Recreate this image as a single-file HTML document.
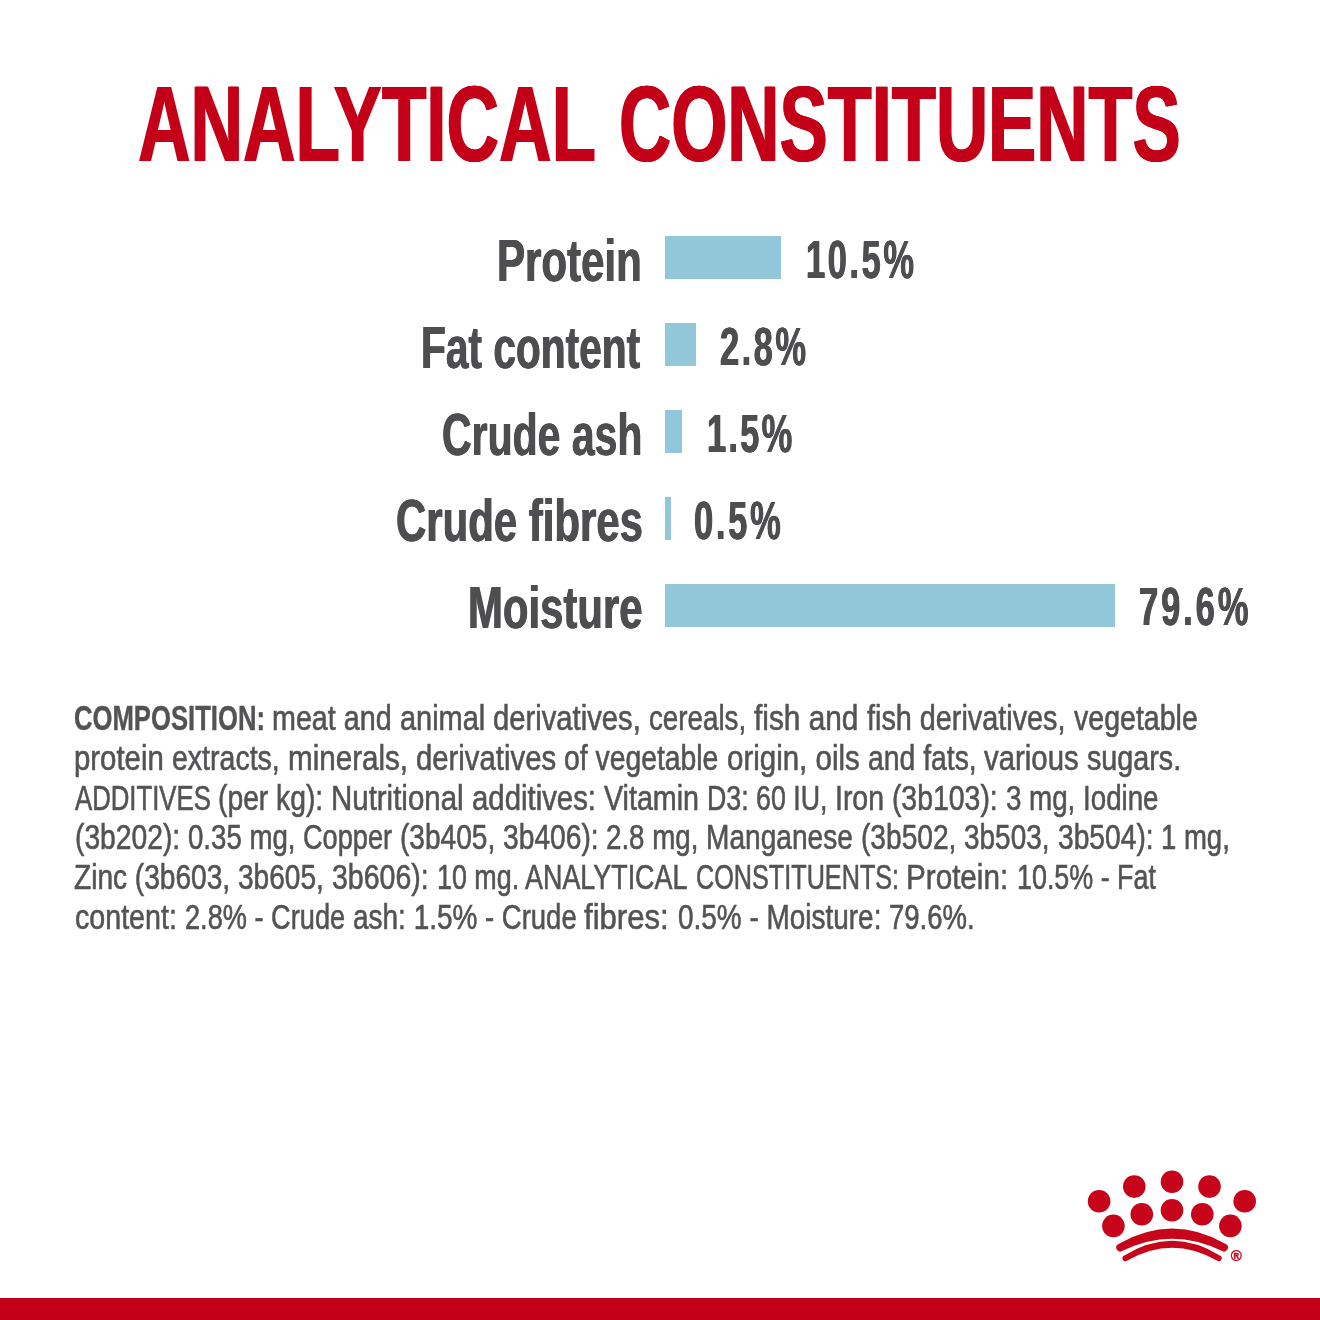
<!DOCTYPE html>
<html lang="en">
<head>
<meta charset="utf-8">
<title>Analytical Constituents</title>
<style>
html,body{margin:0;padding:0;background:#fff;}
body{width:1320px;height:1320px;position:relative;overflow:hidden;font-family:"Liberation Sans",sans-serif;}
h1,p{margin:0;font-size:inherit;font-weight:inherit;}
.t{position:absolute;white-space:pre;line-height:1;transform-origin:0 0;display:block;}
.h{font-size:107.85px;font-weight:700;color:#C40018;text-shadow:1.1px 0 0 #C40018,-1.1px 0 0 #C40018;}
.l{font-size:58.5px;font-weight:700;color:#4E4E50;text-shadow:0.6px 0 0 #4E4E50,-0.6px 0 0 #4E4E50;}
.v{font-size:54.36px;font-weight:700;color:#4E4E50;text-shadow:0.6px 0 0 #4E4E50,-0.6px 0 0 #4E4E50;}
.p{font-size:34.44px;color:#535355;-webkit-text-stroke:0.6px #535355;}
.pb{font-weight:700;-webkit-text-stroke:0.4px #535355;}
.bar{position:absolute;left:665px;height:42.7px;background:#92C6D9;}
.foot{position:absolute;left:0;top:1298px;width:1320px;height:22px;background:#C20017;}
svg{position:absolute;left:0;top:0;}
</style>
</head>
<body>
<h1>
<span class="t h" style="left:138.41px;top:70.31px;transform:scaleX(0.6746)">ANALYTICAL</span>
<span class="t h" style="left:619.08px;top:70.31px;transform:scaleX(0.6696)">CONSTITUENTS</span>
</h1>
<div class="chart">
<div class="row">
<span class="t l" style="left:497.30px;top:232.08px;transform:scaleX(0.7185)">Protein</span>
<div class="bar" style="top:236.3px;width:115.8px"></div>
<span class="t v" style="left:805.82px;top:232.58px;transform:scaleX(0.6350);letter-spacing:3.979px">10.5%</span>
</div>
<div class="row">
<span class="t l" style="left:421.38px;top:319.08px;transform:scaleX(0.6951)">Fat content</span>
<div class="bar" style="top:323.3px;width:31.0px"></div>
<span class="t v" style="left:720.00px;top:319.58px;transform:scaleX(0.6350);letter-spacing:3.899px">2.8%</span>
</div>
<div class="row">
<span class="t l" style="left:441.84px;top:406.08px;transform:scaleX(0.7006)">Crude ash</span>
<div class="bar" style="top:410.3px;width:16.7px"></div>
<span class="t v" style="left:706.52px;top:406.58px;transform:scaleX(0.6350);letter-spacing:3.467px">1.5%</span>
</div>
<div class="row">
<span class="t l" style="left:395.82px;top:492.08px;transform:scaleX(0.7167)">Crude fibres</span>
<div class="bar" style="top:497.3px;width:5.7px"></div>
<span class="t v" style="left:694.30px;top:493.58px;transform:scaleX(0.6350);letter-spacing:4.266px">0.5%</span>
</div>
<div class="row">
<span class="t l" style="left:467.61px;top:579.08px;transform:scaleX(0.7158)">Moisture</span>
<div class="bar" style="top:584.2px;width:450.4px"></div>
<span class="t v" style="left:1138.80px;top:580.38px;transform:scaleX(0.6350);letter-spacing:4.578px">79.6%</span>
</div>
</div>
<p>
<span class="t p pb" style="left:74.42px;top:701.35px;transform:scaleX(0.7453)">COMPOSITION:</span>
<span class="t p" style="left:272.46px;top:701.35px;transform:scaleX(0.8332)">meat and</span>
<span class="t p" style="left:400.05px;top:701.35px;transform:scaleX(0.8405)">animal</span>
<span class="t p" style="left:493.34px;top:701.35px;transform:scaleX(0.8490)">derivatives,</span>
<span class="t p" style="left:649.37px;top:701.35px;transform:scaleX(0.8058)">cereals,</span>
<span class="t p" style="left:754.26px;top:701.35px;transform:scaleX(0.8657)">fish and</span>
<span class="t p" style="left:866.95px;top:701.35px;transform:scaleX(0.8368)">fish derivatives,</span>
<span class="t p" style="left:1073.55px;top:701.35px;transform:scaleX(0.8293)">vegetable</span>
<span class="t p" style="left:74.12px;top:740.95px;transform:scaleX(0.8525)">protein</span>
<span class="t p" style="left:172.06px;top:740.95px;transform:scaleX(0.8283)">extracts,</span>
<span class="t p" style="left:287.71px;top:740.95px;transform:scaleX(0.8597)">minerals,</span>
<span class="t p" style="left:416.04px;top:740.95px;transform:scaleX(0.8515)">derivatives</span>
<span class="t p" style="left:564.36px;top:740.95px;transform:scaleX(0.8230)">of vegetable</span>
<span class="t p" style="left:726.64px;top:740.95px;transform:scaleX(0.8566)">origin, oils</span>
<span class="t p" style="left:867.66px;top:740.95px;transform:scaleX(0.8230)">and fats,</span>
<span class="t p" style="left:984.26px;top:740.95px;transform:scaleX(0.8529)">various</span>
<span class="t p" style="left:1087.10px;top:740.95px;transform:scaleX(0.8345)">sugars.</span>
<span class="t p" style="left:75.22px;top:780.75px;transform:scaleX(0.7478)">ADDITIVES</span>
<span class="t p" style="left:218.22px;top:780.75px;transform:scaleX(0.8210)">(per kg):</span>
<span class="t p" style="left:331.26px;top:780.75px;transform:scaleX(0.8553)">Nutritional</span>
<span class="t p" style="left:472.04px;top:780.75px;transform:scaleX(0.8527)">additives:</span>
<span class="t p" style="left:604.25px;top:780.75px;transform:scaleX(0.8326)">Vitamin</span>
<span class="t p" style="left:707.44px;top:780.75px;transform:scaleX(0.7776)">D3: 60 IU,</span>
<span class="t p" style="left:835.33px;top:780.75px;transform:scaleX(0.8258)">Iron (3b103):</span>
<span class="t p" style="left:1006.08px;top:780.75px;transform:scaleX(0.8052)">3 mg, Iodine</span>
<span class="t p" style="left:74.62px;top:820.45px;transform:scaleX(0.8201)">(3b202):</span>
<span class="t p" style="left:187.68px;top:820.45px;transform:scaleX(0.8029)">0.35 mg,</span>
<span class="t p" style="left:302.96px;top:820.45px;transform:scaleX(0.7893)">Copper</span>
<span class="t p" style="left:399.63px;top:820.45px;transform:scaleX(0.8154)">(3b405,</span>
<span class="t p" style="left:502.66px;top:820.45px;transform:scaleX(0.8195)">3b406):</span>
<span class="t p" style="left:606.24px;top:820.45px;transform:scaleX(0.8049)">2.8 mg,</span>
<span class="t p" style="left:706.35px;top:820.45px;transform:scaleX(0.8166)">Manganese</span>
<span class="t p" style="left:861.13px;top:820.45px;transform:scaleX(0.8170)">(3b502,</span>
<span class="t p" style="left:964.37px;top:820.45px;transform:scaleX(0.8120)">3b503,</span>
<span class="t p" style="left:1057.66px;top:820.45px;transform:scaleX(0.8192)">3b504):</span>
<span class="t p" style="left:1161.22px;top:820.45px;transform:scaleX(0.7988)">1 mg,</span>
<span class="t p" style="left:74.37px;top:860.15px;transform:scaleX(0.8160)">Zinc (3b603,</span>
<span class="t p" style="left:238.37px;top:860.15px;transform:scaleX(0.8155)">3b605,</span>
<span class="t p" style="left:332.06px;top:860.15px;transform:scaleX(0.8286)">3b606):</span>
<span class="t p" style="left:436.85px;top:860.15px;transform:scaleX(0.7805)">10 mg. ANALYTICAL</span>
<span class="t p" style="left:696.34px;top:860.15px;transform:scaleX(0.7325)">CONSTITUENTS:</span>
<span class="t p" style="left:906.24px;top:860.15px;transform:scaleX(0.8613)">Protein:</span>
<span class="t p" style="left:1016.85px;top:860.15px;transform:scaleX(0.7810)">10.5% - Fat</span>
<span class="t p" style="left:75.05px;top:899.75px;transform:scaleX(0.8316)">content:</span>
<span class="t p" style="left:184.96px;top:899.75px;transform:scaleX(0.7895)">2.8% - Crude</span>
<span class="t p" style="left:352.67px;top:899.75px;transform:scaleX(0.8125)">ash: 1.5%</span>
<span class="t p" style="left:484.88px;top:899.75px;transform:scaleX(0.7987)">- Crude</span>
<span class="t p" style="left:584.27px;top:899.75px;transform:scaleX(0.9031)">fibres:</span>
<span class="t p" style="left:677.67px;top:899.75px;transform:scaleX(0.8117)">0.5% - Moisture:</span>
<span class="t p" style="left:888.95px;top:899.75px;transform:scaleX(0.7984)">79.6%.</span>
</p>
<svg width="1320" height="1320" viewBox="0 0 1320 1320">
<g fill="#C6051A"><circle cx="1099.1" cy="1201.3" r="11.3"/><circle cx="1134.3" cy="1186.6" r="11.3"/><circle cx="1172.0" cy="1181.8" r="11.3"/><circle cx="1209.5" cy="1186.6" r="11.3"/><circle cx="1244.7" cy="1201.3" r="11.3"/><circle cx="1113.4" cy="1225.9" r="11.3"/><circle cx="1141.8" cy="1214.3" r="11.3"/><circle cx="1172.0" cy="1210.2" r="11.3"/><circle cx="1202.3" cy="1214.3" r="11.3"/><circle cx="1230.4" cy="1225.9" r="11.3"/>
<path d="M1118,1244.2 Q1172.1,1212.8 1226.2,1244.2 A4,4 0 0 1 1222.2,1251.1 Q1172.1,1226.3 1122,1251.1 A4,4 0 0 1 1118,1244.2 Z"/>
<path d="M1123.9,1255.8 Q1172.1,1225.6 1220.3,1255.8 A2.9,2.9 0 0 1 1217.3,1260.8 Q1172.1,1234.8 1126.9,1260.8 A2.9,2.9 0 0 1 1123.9,1255.8 Z"/>
</g>
<text x="1236.3" y="1260.7" font-size="15" font-weight="700" text-anchor="middle" fill="#C6051A" stroke="#C6051A" stroke-width="0.35" font-family="Liberation Sans, sans-serif">®</text>
</svg>
<div class="foot"></div>
</body>
</html>
